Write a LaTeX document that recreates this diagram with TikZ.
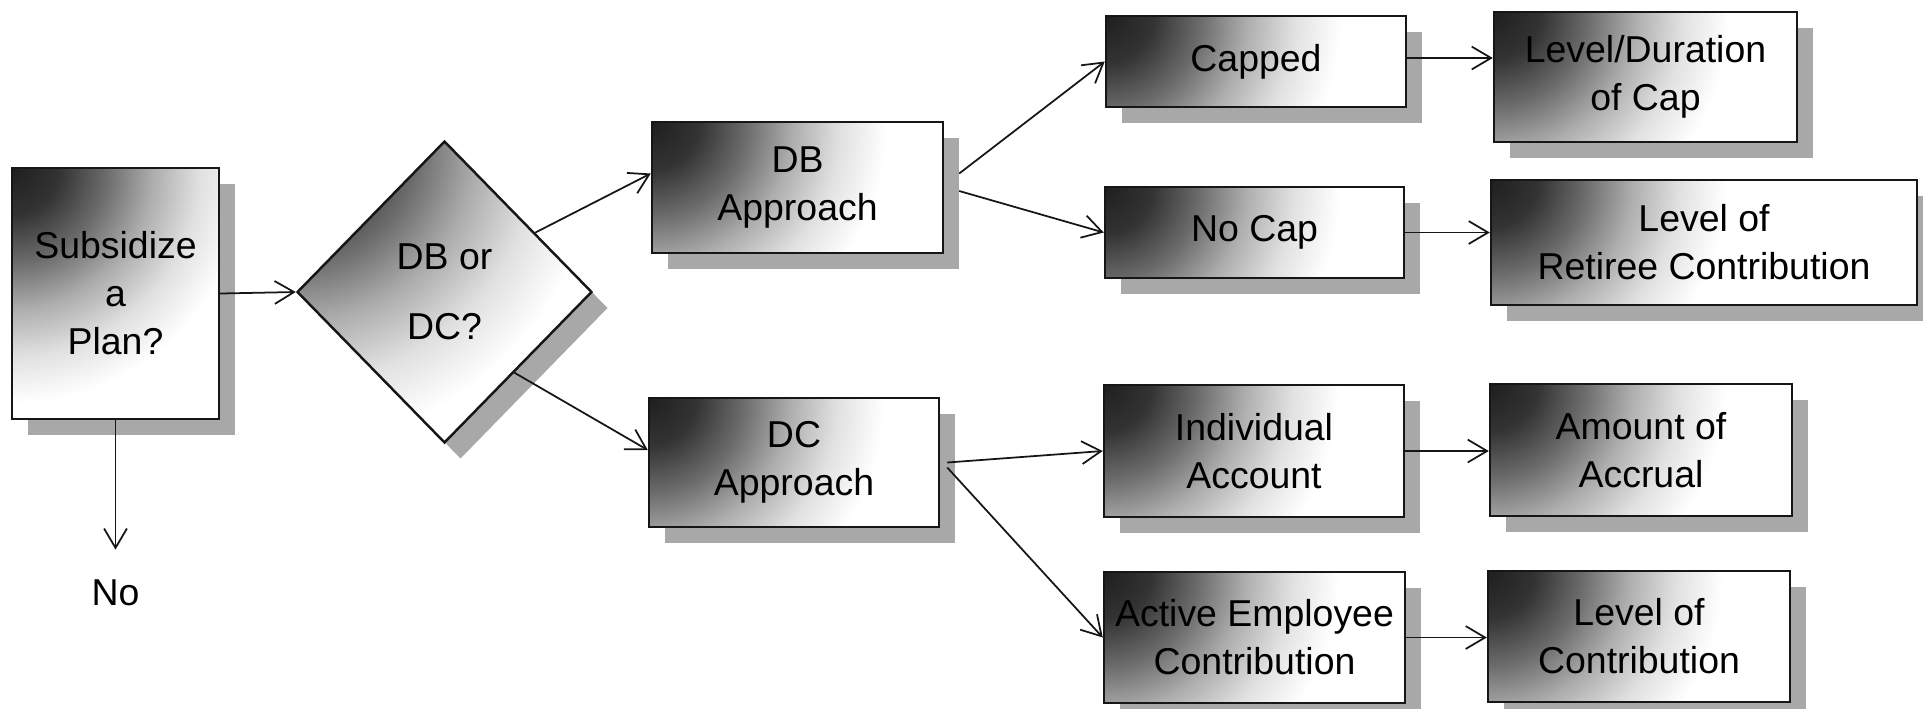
\documentclass[tikz,border=0pt]{standalone}
\usepackage{fontspec}
\setmainfont{Liberation Sans}
\usepackage{xcolor}
\usepackage{tikz}
\usetikzlibrary{shapes.geometric,arrows.meta,positioning,calc,shadows}
\definecolor{inkdark}{HTML}{161616}
\definecolor{shadowgray}{HTML}{A8A8A8}
\newcommand{\boxfont}{\fontsize{21.3pt}{27.3pt}\selectfont}
\pgfdeclareradialshading{cornerfade}{\pgfpoint{0bp}{0bp}}{%
  color(0bp)=(black!88); color(2.5bp)=(black!80); color(5bp)=(black!58);
  color(7.5bp)=(black!32); color(10bp)=(black!12); color(12.5bp)=(white); color(50bp)=(white)}

\begin{document}
\begin{tikzpicture}[
  stepbox/.style={rectangle, draw=inkdark, fill=white, line width=1.4pt, align=center,
                  inner sep=0pt, font=\boxfont,
                  drop shadow={shadow xshift=0.32cm, shadow yshift=-0.32cm,
                               fill=shadowgray, opacity=1},
                  path picture={\shade[shading=cornerfade]
                    ([shift={(-9.4,9.4)}]path picture bounding box.north west)
                    rectangle ([shift={(9.4,-9.4)}]path picture bounding box.north west);}},
  choicebox/.style={diamond, draw=inkdark, fill=white, line width=1.4pt, align=center,
                  inner sep=0pt, font=\boxfont,
                  drop shadow={shadow xshift=0.32cm, shadow yshift=-0.32cm,
                               fill=shadowgray, opacity=1},
                  path picture={\shade[shading=cornerfade]
                    ([shift={(-12,12)}]path picture bounding box.north west)
                    rectangle ([shift={(12,-12)}]path picture bounding box.north west);}},
  arr/.style={-{Straight Barb[length=11pt,width=13pt]}, line width=1pt, inkdark},
  endlbl/.style={font=\boxfont, inner sep=0pt}
]
\useasboundingbox (0,0) rectangle (38.46,-14.16);

%--- Start ---
\node[stepbox, minimum width=4.14cm, minimum height=5.02cm] (plan) at (2.31,-5.87)
  {Subsidize\\a\\Plan?};
\node[endlbl] (no) at (2.31,-11.86) {No};

%--- Decision ---
\node[choicebox, minimum width=5.9cm, minimum height=6.04cm] (dbdc) at (8.89,-5.84)
  {DB or\\[0.44cm]DC?};

%--- Approaches ---
\node[stepbox, minimum width=5.82cm, minimum height=2.62cm] (dbapp) at (15.95,-3.75)
  {DB\\Approach};
\node[stepbox, minimum width=5.8cm, minimum height=2.58cm] (dcapp) at (15.88,-9.25)
  {DC\\Approach};

%--- DB branch ---
\node[stepbox, minimum width=6cm, minimum height=1.82cm] (capped) at (25.12,-1.23)
  {Capped};
\node[stepbox, minimum width=5.98cm, minimum height=1.82cm] (nocap) at (25.09,-4.65)
  {No Cap};
\node[stepbox, minimum width=6.06cm, minimum height=2.6cm] (levdur) at (32.91,-1.54)
  {Level/Duration\\of Cap};
\node[stepbox, minimum width=8.52cm, minimum height=2.5cm] (retiree) at (34.08,-4.85)
  {Level of\\Retiree Contribution};

%--- DC branch ---
\node[stepbox, minimum width=6cm, minimum height=2.64cm] (indiv) at (25.08,-9.02)
  {Individual\\Account};
\node[stepbox, minimum width=6.02cm, minimum height=2.62cm] (active) at (25.09,-12.75)
  {Active Employee\\Contribution};
\node[stepbox, minimum width=6.04cm, minimum height=2.64cm] (accrual) at (32.82,-9.0)
  {Amount of\\Accrual};
\node[stepbox, minimum width=6.04cm, minimum height=2.62cm] (levcon) at (32.78,-12.73)
  {Level of\\Contribution};

%--- Connectors ---
\draw[arr] (plan.east) -- (dbdc.west);
\draw[arr] (plan.south) -- ([yshift=0.6cm]no.north);
\draw[arr] ($(dbdc.east)!0.39!(dbdc.north)$) -- ([yshift=0.28cm]dbapp.west);
\draw[arr] ($(dbdc.east)!0.53!(dbdc.south)$) -- ([yshift=0.25cm]dcapp.west);
\draw[arr] ([xshift=0.3cm,yshift=0.28cm]dbapp.east) -- (capped.west);
\draw[arr] ([xshift=0.3cm,yshift=-0.07cm]dbapp.east) -- (nocap.west);
\draw[arr] ([xshift=0.14cm]dcapp.east) -- (indiv.west);
\draw[arr] ([xshift=0.14cm,yshift=-0.1cm]dcapp.east) -- (active.west);
\draw[arr] ([yshift=0.07cm]capped.east) -- ([yshift=0.07cm]capped.east -| levdur.west);
\draw[arr] (nocap.east) -- (nocap.east -| retiree.west);
\draw[arr] (indiv.east) -- (indiv.east -| accrual.west);
\draw[arr] (active.east) -- (active.east -| levcon.west);

\end{tikzpicture}
\end{document}
